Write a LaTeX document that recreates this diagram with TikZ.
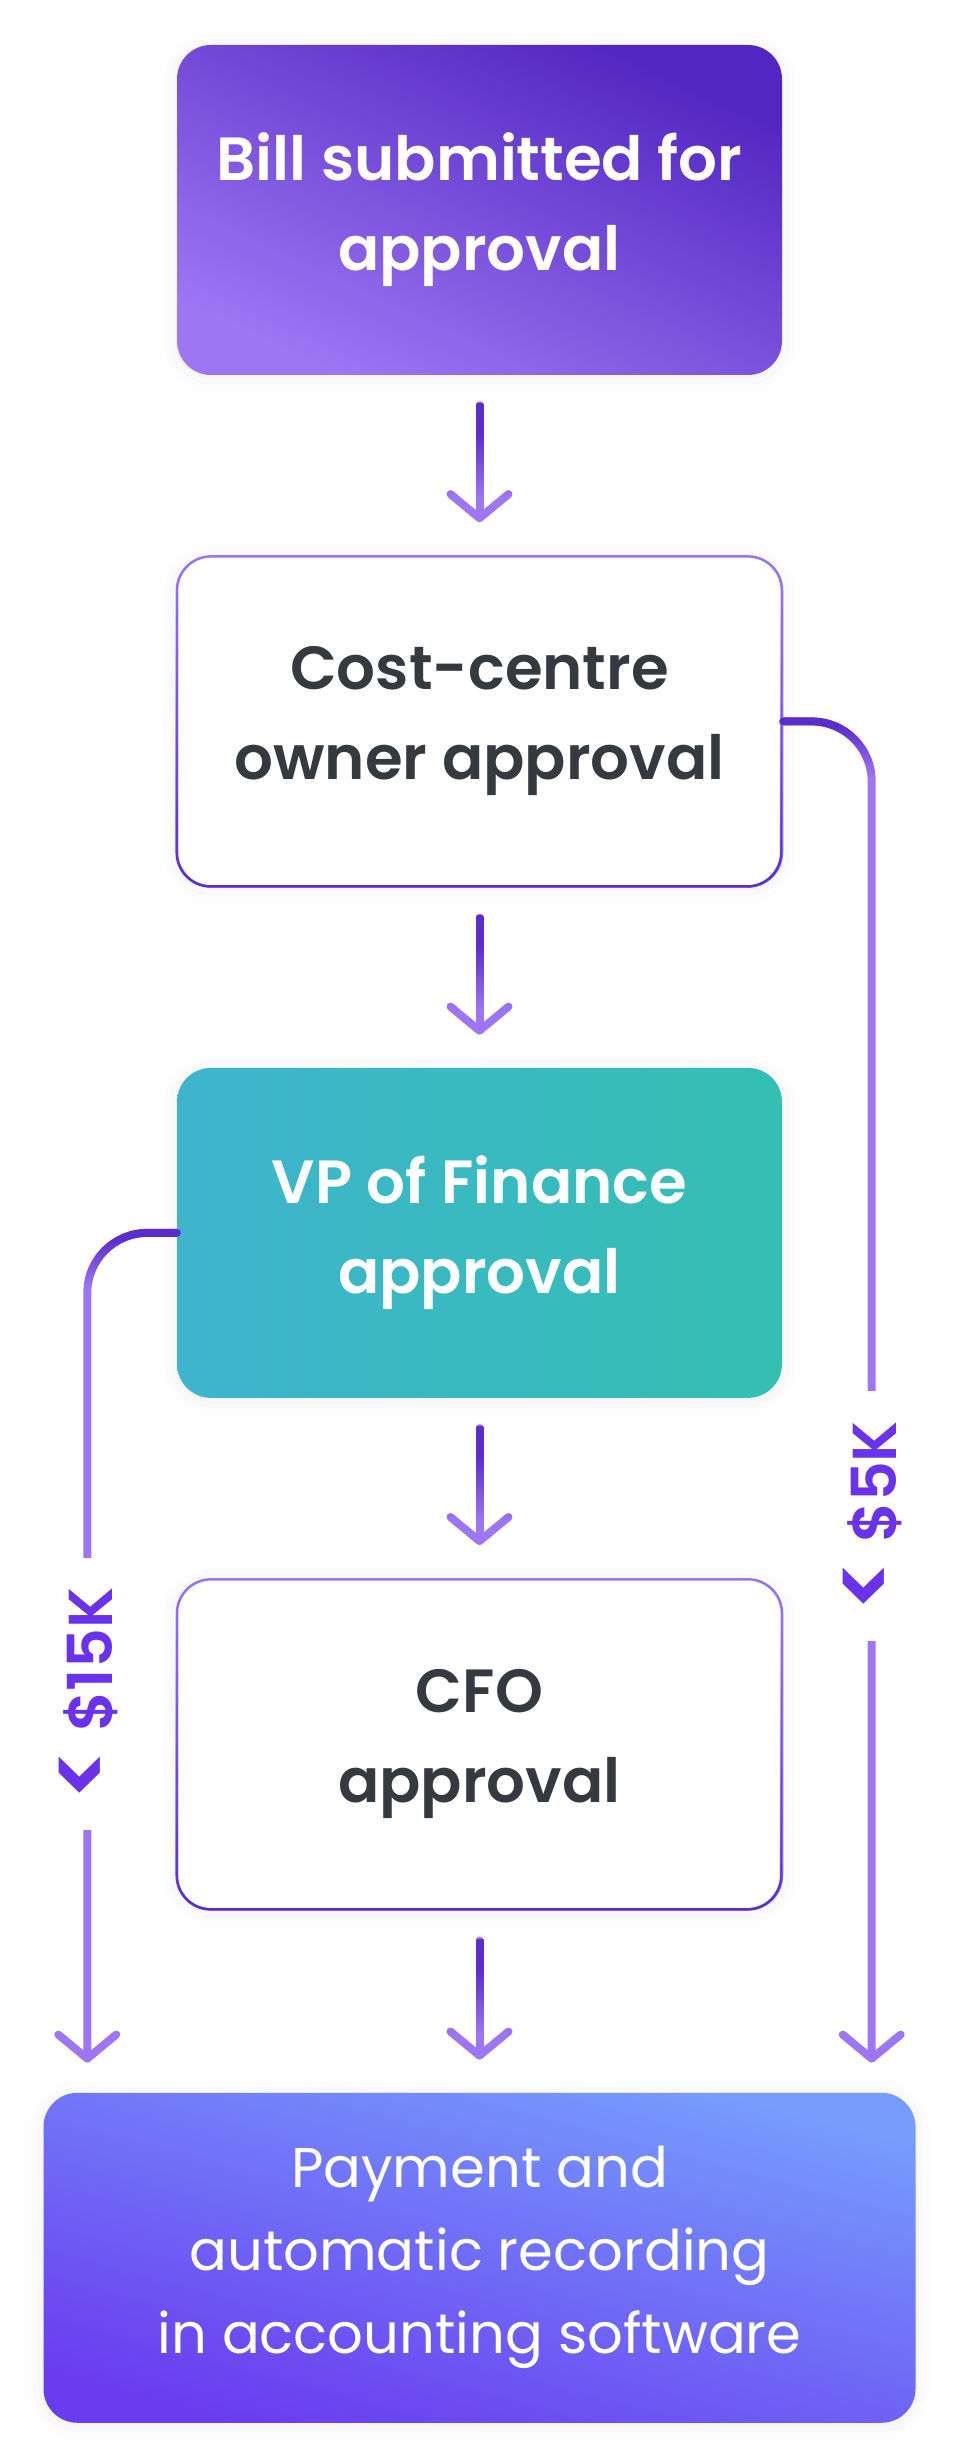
\documentclass[tikz,border=0pt]{standalone}
\usepackage{fontspec}
\setmainfont{Poppins}
\newfontfamily\popsemibold{Poppins SemiBold}
\usetikzlibrary{arrows.meta,positioning,calc,shadows.blur,fadings}

\definecolor{billtop}{HTML}{5226C1}
\definecolor{billbot}{HTML}{9C76F3}
\definecolor{vpleft}{HTML}{3EB4CD}
\definecolor{vpright}{HTML}{34BFB2}
\definecolor{paytop}{HTML}{769CFD}
\definecolor{paybot}{HTML}{6A3CEF}
\definecolor{edgelight}{HTML}{9A75F2}
\definecolor{edgedark}{HTML}{5A2DCF}
\definecolor{darktext}{HTML}{353A40}
\definecolor{flowlight}{HTML}{9C76F3}
\definecolor{flowdark}{HTML}{5B2DCC}
\definecolor{limittext}{HTML}{6A32EA}

% fadings for the gradient strokes
\tikzfading[name=fadedown, top color=transparent!0, bottom color=transparent!100]
\tikzfading[name=fadeup, top color=transparent!100, bottom color=transparent!0]

\begin{document}
\begin{tikzpicture}[x=1pt,y=1pt,
    box/.style={rounded corners=34pt, minimum width=605pt, minimum height=330pt,
        align=center, inner sep=0pt,
        blur shadow={shadow xshift=0pt, shadow yshift=-2pt, shadow blur radius=18pt, shadow opacity=7}},
    colourbox/.style={box, text=white, font=\popsemibold\fontsize{61pt}{90pt}\selectfont},
    plainbox/.style={box, fill=white, draw=edgelight, line width=2.5pt, text=darktext,
        postaction={draw=edgedark, path fading=fadeup},
        font=\popsemibold\fontsize{61pt}{90pt}\selectfont},
    flowline/.style={draw=flowlight, line width=8pt, line cap=round,
        -{Straight Barb[length=24pt, width=58pt, round]}, shorten <=30pt, shorten >=33pt},
    limitline/.style={draw=flowlight, line width=8pt, line cap=round,
        -{Straight Barb[length=24pt, width=58pt, round]}, shorten >=30pt, rounded corners=60pt},
    darkening/.style={postaction={draw=flowdark, path fading=fadedown, fit fading=false,
        fading transform={#1}}},
    limitlabel/.style={fill=white, rotate=90, inner xsep=30pt, inner ysep=4pt, text=limittext,
        font=\popsemibold\fontsize{62pt}{66pt}\selectfont}]
  \useasboundingbox (0,0) rectangle (963,2460);
  \node[colourbox, top color=billtop, bottom color=billbot, shading angle=-25] (bill) at (479.5,2250) {Bill submitted for\\approval};
  \node[plainbox, below=180pt of bill] (costcentre) {Cost-centre\\owner approval};
  \node[colourbox, left color=vpleft, right color=vpright, below=180pt of costcentre] (vp) {VP of Finance\\approval};
  \node[plainbox, below=180pt of vp] (cfo) {CFO\\approval};
  \node[box, minimum width=872pt, text=white, font=\fontsize{56pt}{83pt}\selectfont,
        top color=paytop, bottom color=paybot, shading angle=-15, below=182pt of cfo] (pay)
        {Payment and\\automatic recording\\in accounting software};
  % main flow
  \foreach \from/\to in {bill/costcentre, costcentre/vp, vp/cfo, cfo/pay}
    \draw[flowline, darkening={shift={($(\from.south)!0.5!(\to.north)$)}, yscale=1.25}] (\from) -- (\to);
  % limits
  \draw[limitline, darkening={shift={(costcentre.east)}, xshift=46pt, yshift=-30pt}]
    (costcentre.east) -| ([xshift=-44pt]pay.north east);
  \draw[limitline, darkening={shift={(vp.west)}, xshift=-46pt, yshift=-30pt}]
    (vp.west) -| ([xshift=44pt]pay.north west);
  \node[limitlabel] (under5k) at (873,944) {{\fontsize{92pt}{92pt}\selectfont<} \$5K};
  \node[limitlabel] (under15k) at (89,766) {{\fontsize{92pt}{92pt}\selectfont<} \$15K};
\end{tikzpicture}
\end{document}
